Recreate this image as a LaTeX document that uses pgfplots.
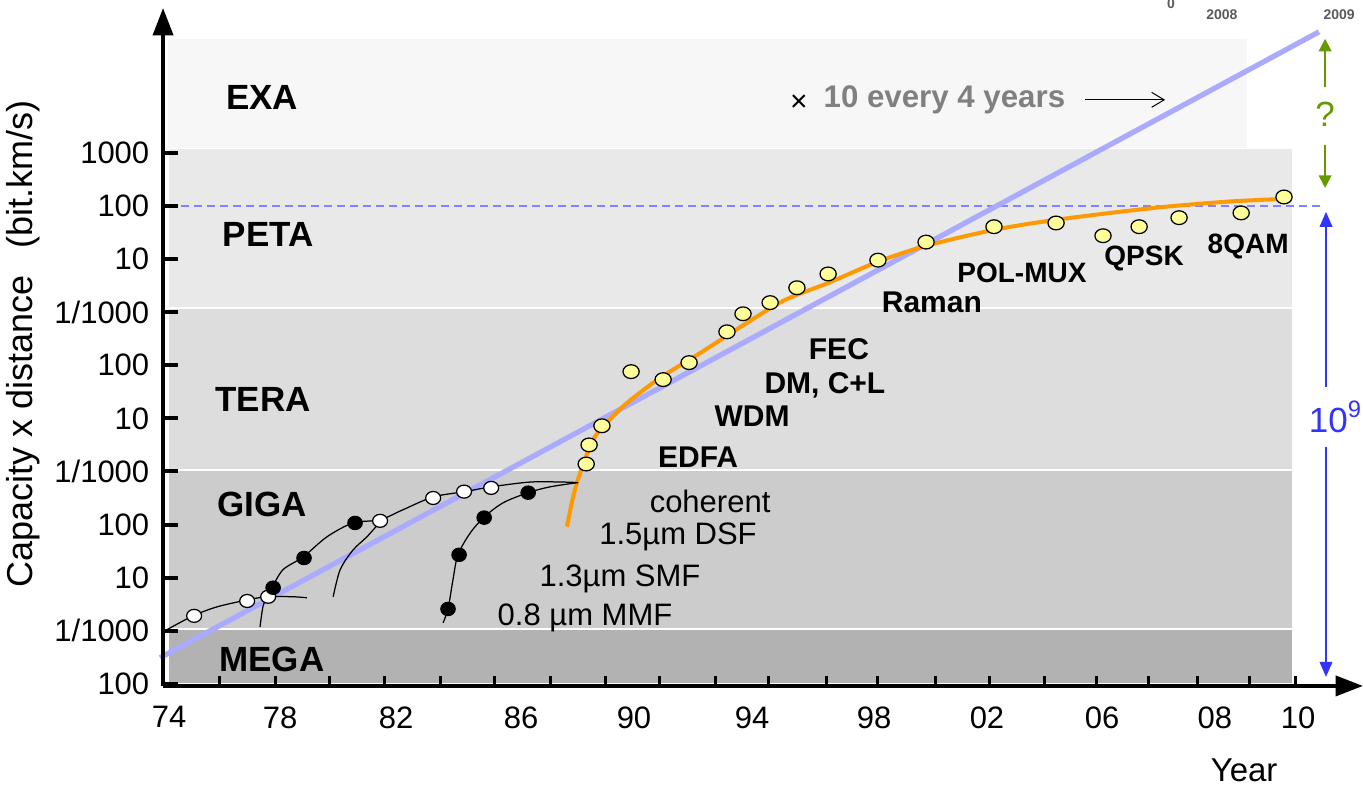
\documentclass[border=0pt]{standalone}
\usepackage{pgfplots}
\pgfplotsset{compat=1.18}
\usepackage{fontspec}
\setmainfont{Liberation Sans}
\usetikzlibrary{arrows.meta}
\definecolor{bandE}{RGB}{247,247,247}
\definecolor{bandP}{RGB}{233,233,233}
\definecolor{bandT}{RGB}{221,221,221}
\definecolor{bandG}{RGB}{204,204,204}
\definecolor{bandM}{RGB}{178,178,178}
\definecolor{trend}{RGB}{170,170,255}
\definecolor{orng}{RGB}{255,153,0}
\definecolor{yel}{RGB}{255,255,153}
\definecolor{blu}{RGB}{51,51,255}
\definecolor{grn}{RGB}{102,153,0}
\definecolor{txtgray}{RGB}{128,128,128}
\definecolor{dashc}{RGB}{130,130,255}
\newcommand{\fs}[1]{\fontsize{#1}{#1}\selectfont}
\begin{document}
\begin{tikzpicture}
\begin{axis}[
  scale only axis, width=480pt, height=271.2pt,
  xmin=1973.794, xmax=2014.96, ymin=-0.04, ymax=12.73,
  axis lines*=left,
  axis line style={line width=1.6pt, -{Triangle[length=11pt,width=8pt]}},
  axis on top,
  clip=false,
  tick align=inside,
  xtick={1974,1977.81,1981.79,1986.08,1989.95,1994,1998.19,2002.06,2006.01,2009.88,2012.73},
  xticklabels={74,78,82,86,90,94,98,02,06,08,10},
  minor xtick={1975.72,1977.64,1979.49,1981.38,1983.30,1985.18,1987.07,1988.96,1990.81,1992.73,1994.58,1996.54,1998.32,2000.28,2002.13,2004.02,2005.80,2007.59,2009.27,2011.05,2012.66},
  every major x tick/.style={draw=none},
  every minor x tick/.style={black, line width=1.2pt},
  every major y tick/.style={black, line width=1.6pt},
  minor tick length=4pt,
  major tick length=6pt,
  ytick={0,1,2,3,4,5,6,7,8,9,10},
  yticklabels={100,1/1000,10,100,1/1000,10,100,1/1000,10,100,1000},
  ticklabel style={font=\fs{12.4}},
  xticklabel style={yshift=-4.7pt},
  yticklabel style={xshift=-2pt},
  /pgf/number format/assume math mode=true,
]
% background bands
\addplot[fill=bandM, draw=white, line width=0.8pt] coordinates {(1973.97,0) (2012.56,0) (2012.56,1.04) (1973.97,1.04)} -- cycle;
\addplot[fill=bandG, draw=white, line width=0.8pt] coordinates {(1973.97,1.04) (2012.56,1.04) (2012.56,4.03) (1973.97,4.03)} -- cycle;
\addplot[fill=bandT, draw=white, line width=0.8pt] coordinates {(1973.97,4.03) (2012.56,4.03) (2012.56,7.08) (1973.97,7.08)} -- cycle;
\addplot[fill=bandP, draw=white, line width=0.8pt] coordinates {(1973.97,7.08) (2012.56,7.08) (2012.56,10.1) (1973.97,10.1)} -- cycle;
\addplot[fill=bandE, draw=none] coordinates {(1973.97,10.1) (2010.98,10.1) (2010.98,12.15) (1973.97,12.15)} -- cycle;
% dashed reference line
\addplot[dashc, line width=0.5pt, dash pattern=on 3.2pt off 2pt] coordinates {(1973.97,9) (2013.62,9)};
% trend x10 every 4 years
\addplot[trend, line width=2.1pt] coordinates {(1973.69,0.49) (2013.45,12.28)};
% orange curve
\addplot[orng, line width=1.6pt, smooth, tension=0.5] coordinates {
(1987.65,2.96) (1987.86,3.52) (1988.10,3.97) (1988.55,4.60) (1989.03,4.92) (1989.71,5.29)
(1990.84,5.76) (1992.22,6.23) (1993.83,6.80) (1995.13,7.23) (1996.61,7.55) (1998.32,7.95)
(1999.97,8.25) (2002.30,8.55) (2004.43,8.74) (2007.72,8.96) (2010.26,9.08) (2012.04,9.13) (2012.46,9.15)};
% thin black curves
\addplot[black, line width=0.5pt, smooth] coordinates {
(1973.93,1.02) (1974.82,1.28) (1975.65,1.45) (1976.68,1.58) (1977.36,1.64) (1978.25,1.64) (1978.73,1.62)};
\addplot[black, line width=0.5pt, smooth] coordinates {
(1977.12,1.07) (1977.22,1.45) (1977.36,1.64) (1977.53,1.81) (1977.91,2.15) (1978.60,2.39) (1979.42,2.77)
(1980.31,3.03) (1981.24,3.09) (1982.03,3.28) (1983.06,3.52) (1984.15,3.62) (1985.05,3.71) (1986.38,3.80) (1987.52,3.80) (1988.03,3.79)};
\addplot[black, line width=0.5pt, smooth] coordinates {
(1979.63,1.64) (1979.87,2.15) (1980.31,2.52) (1980.79,2.77) (1981.24,3.05)};
\addplot[black, line width=0.5pt, smooth] coordinates {
(1983.40,1.15) (1983.57,1.41) (1983.74,1.96) (1983.91,2.43) (1984.33,2.84) (1984.81,3.14) (1985.46,3.41)
(1986.32,3.60) (1987.07,3.71) (1988.03,3.79)};
% markers
\addplot[only marks, mark=*, mark size=2.6pt, mark options={fill=white, draw=black, line width=0.5pt, xscale=1.15}] coordinates {
(1974.86,1.28) (1976.68,1.56) (1977.40,1.64) (1981.24,3.07) (1983.06,3.50) (1984.12,3.62) (1985.05,3.69)};
\addplot[only marks, mark=*, mark size=2.7pt, mark options={fill=black, draw=black, xscale=1.08}] coordinates {
(1977.57,1.81) (1978.63,2.37) (1980.38,3.03) (1983.57,1.41) (1983.95,2.43) (1984.81,3.13) (1986.32,3.60)};
\addplot[only marks, mark=*, mark size=2.75pt, mark options={fill=yel, draw=black, line width=0.5pt, xscale=1.18}] coordinates {
(1988.31,4.14) (1988.41,4.50) (1988.85,4.86) (1989.85,5.88) (1990.95,5.73) (1991.84,6.05) (1993.14,6.63)
(1993.69,6.97) (1994.62,7.18) (1995.54,7.46) (1996.61,7.72) (1998.32,7.98) (1999.97,8.32) (2002.30,8.61)
(2004.43,8.68) (2006.04,8.44) (2007.28,8.61) (2008.65,8.78) (2010.78,8.87) (2012.25,9.17)};
% band labels
\node[font=\fs{14}\bfseries] at (axis cs:1977.19,11.05) {EXA};
\node[font=\fs{14}\bfseries] at (axis cs:1977.40,8.46) {PETA};
\node[font=\fs{14}\bfseries] at (axis cs:1977.22,5.35) {TERA};
\node[font=\fs{14}\bfseries] at (axis cs:1977.19,3.37) {GIGA};
\node[font=\fs{14}\bfseries] at (axis cs:1977.53,0.45) {MEGA};
% technology labels
\node[font=\fs{12}\bfseries] at (axis cs:1992.15,4.27) {EDFA};
\node[font=\fs{12}\bfseries] at (axis cs:1994.00,5.05) {WDM};
\node[font=\fs{12}\bfseries] at (axis cs:1996.50,5.63) {DM, C+L};
\node[font=\fs{12}\bfseries] at (axis cs:1996.98,6.31) {FEC};
\node[font=\fs{12}\bfseries] at (axis cs:2000.17,7.19) {Raman};
\node[font=\fs{11.2}\bfseries] at (axis cs:2003.26,7.74) {POL-MUX};
\node[font=\fs{11.2}\bfseries] at (axis cs:2007.45,8.02) {QPSK};
\node[font=\fs{11.2}\bfseries] at (axis cs:2011.02,8.23) {8QAM};
\node[font=\fs{12.4}] at (axis cs:1992.56,3.43) {coherent};
\node[font=\fs{12.4}] at (axis cs:1991.46,2.77) {1.5µm DSF};
\node[font=\fs{12.4}] at (axis cs:1989.47,1.98) {1.3µm SMF};
\node[font=\fs{12.4}] at (axis cs:1988.27,1.24) {0.8 µm MMF};
% trend annotation
\node[font=\fs{12}] at (axis cs:1995.61,10.94) {×};
\node[font=\fs{12.5}\bfseries, text=txtgray, anchor=west, inner sep=0pt] at (axis cs:1996.44,11.0) {10 every 4 years};
\draw[black, line width=0.4pt, -{Straight Barb[length=5pt,width=6pt]}] (axis cs:2005.42,11.0) -- (axis cs:2008.17,11.0);
% green ? arrows
\draw[grn, line width=0.8pt, -{Triangle[length=5pt,width=5pt]}] (axis cs:2013.66,11.24) -- (axis cs:2013.66,12.15);
\draw[grn, line width=0.8pt, -{Triangle[length=5pt,width=5pt]}] (axis cs:2013.66,10.15) -- (axis cs:2013.66,9.34);
\node[font=\fs{14}, text=grn] at (axis cs:2013.66,10.72) {?};
% blue 10^9 arrows
\draw[blu, line width=0.8pt, -{Triangle[length=6pt,width=5pt]}] (axis cs:2013.69,5.59) -- (axis cs:2013.69,8.89);
\draw[blu, line width=0.8pt, -{Triangle[length=6pt,width=5pt]}] (axis cs:2013.69,4.46) -- (axis cs:2013.69,0.13);
\node[font=\fs{14}, text=blu] at (axis cs:2014.0,5.03) {10\raisebox{0.42em}{\fs{9.5}9}};
% cut-off inset text at top
\node[font=\fs{5.6}\bfseries, text={rgb,255:red,90;green,90;blue,90}] at (axis cs:2008.37,12.81) {0};
\node[font=\fs{5.6}\bfseries, text={rgb,255:red,90;green,90;blue,90}] at (axis cs:2010.12,12.60) {2008};
\node[font=\fs{5.6}\bfseries, text={rgb,255:red,90;green,90;blue,90}] at (axis cs:2014.14,12.60) {2009};
% axis titles
\node[font=\fs{14.4}, rotate=90] at (axis cs:1968.99,6.40) {Capacity x distance\hspace{0.45em} (bit.km/s)};
\node[font=\fs{13.2}] at (axis cs:2010.88,-1.62) {Year};
% bounding box corners
\coordinate (bbSW) at (axis cs:1968.20,-1.98);
\coordinate (bbNE) at (axis cs:2014.96,12.88);
\end{axis}
\pgfresetboundingbox
\path[use as bounding box] (bbSW) rectangle (bbNE);
\end{tikzpicture}
\end{document}
